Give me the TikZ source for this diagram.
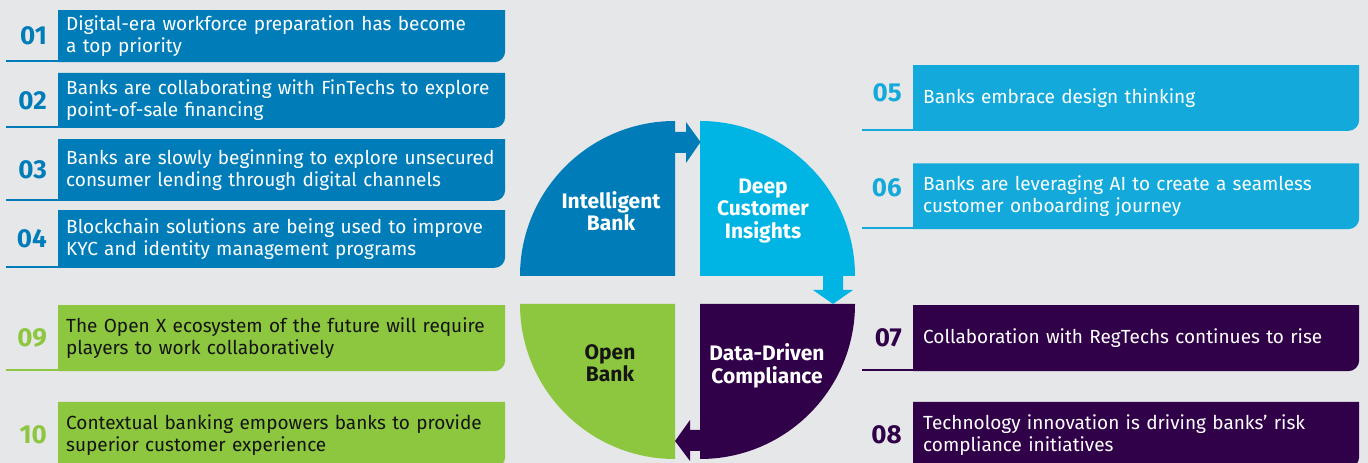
\documentclass[tikz,border=0pt]{standalone}
\usepackage{fontspec}
\setmainfont{Fira Sans}
\usetikzlibrary{positioning}

\definecolor{bgc}{HTML}{E6E7E9}
\definecolor{bankblue}{HTML}{007DB8}
\definecolor{insightblue}{HTML}{00B5E3}
\definecolor{trendcyan}{HTML}{13AADB}
\definecolor{rulepurple}{HTML}{300048}
\definecolor{opengreen}{HTML}{8DC63F}
\definecolor{darktext}{HTML}{141414}

\tikzset{
  trend/.style={anchor=north west, inner xsep=8pt, inner ysep=0pt, text width=431pt, align=left,
    font=\fontsize{19}{22}\selectfont,
    path picture={\fill[#1] (path picture bounding box.north west) -- (path picture bounding box.north east)
      -- ([yshift=11pt]path picture bounding box.south east) arc[start angle=0, end angle=-90, radius=11pt]
      -- (path picture bounding box.south west) -- cycle;}},
  rtrend/.style={trend=#1, inner xsep=10pt, text width=426pt},
  num/.style={inner sep=0pt, text=#1, font=\bfseries\fontsize{26}{26}\selectfont},
  uline/.style={draw=#1, line width=2pt},
  quad/.style={align=center, font=\bfseries\fontsize{21}{22.5}\selectfont, text=white},
}

\begin{document}
\begin{tikzpicture}[x=1pt, y=1pt]
  \useasboundingbox (0,0) rectangle (1368,463);
  \clip (0,0) rectangle (1368,463);
  \fill[bgc] (0,0) rectangle (1368,463);

  % wheel
  \coordinate (cintel) at (675,187);
  \coordinate (cinsight) at (700,187);
  \coordinate (copen) at (675,159);
  \coordinate (crule) at (700,159);
  \fill[bankblue] (cintel) -- ++(0,155) arc[start angle=90, end angle=180, radius=155] -- cycle;
  \fill[insightblue] (cinsight) -- ++(155,0) arc[start angle=0, end angle=90, radius=155] -- cycle;
  \fill[opengreen] (copen) -- ++(-155,0) arc[start angle=180, end angle=270, radius=155] -- cycle;
  \fill[rulepurple] (crule) -- ++(0,-155) arc[start angle=270, end angle=360, radius=155] -- cycle;

  % arrows between quarters
  \fill[bankblue] ([yshift=144pt]cintel) -- ++(11,0) -- ++(0,10) -- ++(14.5,-20) -- ++(-14.5,-21) -- ++(0,10) -- ++(-11,0) -- cycle;
  \fill[insightblue] ([xshift=123pt]cinsight) -- ++(20,0) -- ++(0,-14) -- ++(10,0) -- (crule -| 833,0) -- ++(-20,14) -- ++(10,0) -- cycle;
  \fill[rulepurple] ([yshift=-126pt]crule) -- ++(-10,0) -- ++(0,10) -- ++(-15,-21) -- ++(15,-20) -- ++(0,10) -- ++(10,0) -- cycle;

  \node[quad] (qintel) at (611,252) {Intelligent\\Bank};
  \node[quad] (qinsight) at (763,252) {Deep\\Customer\\Insights};
  \node[quad, text=darktext] (qopen) at (610,100) {Open\\Bank};
  \node[quad] (qrule) at (767,97) {Data-Driven\\Compliance};

  % left column
  \node[trend=bankblue, text=white, minimum height=52pt] (t01) at (58,453) {Digital-era workforce preparation has become\\a top priority};
  \node[trend=bankblue, text=white, minimum height=55pt] (t02) at (58,390.3) {Banks are collaborating with FinTechs to explore\\point-of-sale financing};
  \node[trend=bankblue, text=white, minimum height=61.7pt] (t03) at (58,324) {Banks are slowly beginning to explore unsecured\\consumer lending through digital channels};
  \node[trend=bankblue, text=white, minimum height=57.7pt] (t04) at (58,253) {Blockchain solutions are being used to improve\\KYC and identity management programs};
  \node[trend=opengreen, text=darktext, minimum height=66pt] (t09) at (58,158) {The Open X ecosystem of the future will require\\players to work collaboratively};
  \node[trend=opengreen, text=darktext, minimum height=66pt] (t10) at (58,61.3) {Contextual banking empowers banks to provide\\superior customer experience};

  \node[num=bankblue, left=11pt of t01] (n01) {01};
  \node[num=bankblue, left=11pt of t02] (n02) {02};
  \node[num=bankblue, left=11pt of t03] (n03) {03};
  \node[num=bankblue, left=11pt of t04] (n04) {04};
  \node[num=opengreen, left=11pt of t09] (n09) {09};
  \node[num=opengreen, left=11pt of t10] (n10) {10};

  \foreach \t/\c in {t01/bankblue, t02/bankblue, t03/bankblue, t04/bankblue, t09/opengreen}
    \draw[uline=\c] ([shift={(7pt,1pt)}]\t.south west) -- ++(-59pt,0);

  % right column
  \node[rtrend=trendcyan, text=white, minimum height=65.7pt] (t05) at (913,398) {Banks embrace design thinking};
  \node[rtrend=trendcyan, text=white, minimum height=65.7pt] (t06) at (913,299.7) {Banks are leveraging AI to create a seamless\\customer onboarding journey};
  \node[rtrend=rulepurple, text=white, minimum height=66pt] (t07) at (913,158) {Collaboration with RegTechs continues to rise};
  \node[rtrend=rulepurple, text=white, minimum height=66pt] (t08) at (913,61.3) {Technology innovation is driving banks’ risk\\compliance initiatives};

  \node[num=trendcyan, left=11pt of t05, yshift=5.5pt] (n05) {05};
  \node[num=trendcyan, left=11pt of t06, yshift=8.5pt] (n06) {06};
  \node[num=rulepurple, left=11pt of t07] (n07) {07};
  \node[num=rulepurple, left=11pt of t08] (n08) {08};

  \foreach \t/\c in {t05/trendcyan, t06/trendcyan, t07/rulepurple}
    \draw[uline=\c] ([shift={(1pt,1pt)}]\t.south west) -- ++(-52pt,0);
\end{tikzpicture}
\end{document}
